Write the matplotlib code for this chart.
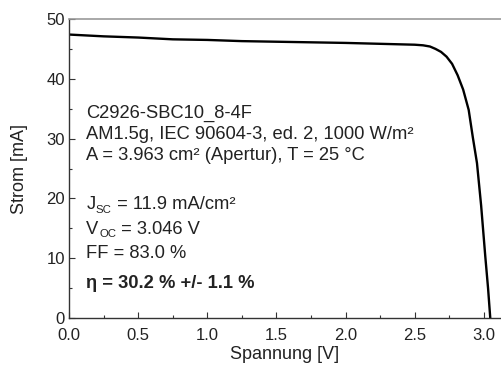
import numpy as np
import matplotlib
matplotlib.use('Agg')
import matplotlib.pyplot as plt
from matplotlib.ticker import MultipleLocator
from matplotlib.transforms import offset_copy

plt.rcParams['font.family'] = ['Liberation Sans', 'DejaVu Sans']

# IV curve
voltage = [0.0, 0.25, 0.5, 0.75, 1.0, 1.25, 1.5, 1.75, 2.0, 2.25, 2.5, 2.56,
           2.61, 2.65, 2.69, 2.73, 2.77, 2.81, 2.85, 2.89, 2.92, 2.95, 2.98,
           3.01, 3.03, 3.046]
current = [47.4, 47.1, 46.9, 46.6, 46.5, 46.3, 46.2, 46.1, 46.0, 45.85, 45.7, 45.6,
           45.4, 45.0, 44.5, 43.7, 42.5, 40.6, 38.2, 34.8, 30.2, 25.9, 18.8,
           10.3, 5.0, 0.0]

info_lines = ['C2926-SBC10_8-4F',
              'AM1.5g, IEC 90604-3, ed. 2, 1000 W/m²',
              'A = 3.963 cm² (Apertur), T = 25 °C']
info_y = [33.45, 29.9, 26.35]
# (symbol, subscript, rest)
param_lines = [('J', 'SC', ' = 11.9 mA/cm²'),
               ('V', 'OC', ' = 3.046 V'),
               ('FF = 83.0 %', '', '')]
param_y = [18.2, 14.1, 10.0]
eta_line = 'η = 30.2 % +/- 1.1 %'
eta_y = 5.0

fig = plt.figure(figsize=(5.01, 3.65), dpi=100)
W, H = 501, 365
x0, x1 = 69, 69 + 3.2 * 138.3
y0, y1 = 318, 19
ax = fig.add_axes([x0 / W, (H - y0) / H, (x1 - x0) / W, (y0 - y1) / H])

ax.plot(voltage, current, '-', color='black', linewidth=1.7)

ax.set_xlim(0, 3.2)
ax.set_ylim(0, 50)
ax.xaxis.set_major_locator(MultipleLocator(0.5))
ax.xaxis.set_minor_locator(MultipleLocator(0.25))
ax.yaxis.set_major_locator(MultipleLocator(10))
ax.yaxis.set_minor_locator(MultipleLocator(5))
ax.set_xticks([0.0, 0.5, 1.0, 1.5, 2.0, 2.5, 3.0])
ax.set_xticklabels(['0.0', '0.5', '1.0', '1.5', '2.0', '2.5', '3.0'])
ax.tick_params(which='both', direction='in', top=False, right=False,
               labelsize=12, colors='#333333', labelcolor='#222222')
ax.tick_params(which='major', length=4, width=0.8, pad=3)
ax.tick_params(axis='x', which='major', pad=7)
ax.tick_params(which='minor', length=2.5, width=0.8)

for s in ['left', 'bottom']:
    ax.spines[s].set_color('#333333')
    ax.spines[s].set_linewidth(1.0)
ax.spines['top'].set_color('#999999')
ax.spines['top'].set_linewidth(1.2)
ax.spines['right'].set_visible(False)

ax.set_xlabel('Spannung [V]', fontsize=13, color='#222222')
ax.set_ylabel('Strom [mA]', fontsize=13, color='#222222')
ax.xaxis.set_label_coords((285 - x0) / (x1 - x0), -0.122)
ax.yaxis.set_label_coords(-(69 - 20) / (x1 - x0), 0.5)
ax.yaxis.label.set_verticalalignment('center')
ax.xaxis.label.set_verticalalignment('center')

tx = 0.125
fs = 13.2
tc = '#222222'
for t, yy in zip(info_lines, info_y):
    ax.text(tx, yy, t, fontsize=fs, color=tc, va='baseline')

fig.canvas.draw()
renderer = fig.canvas.get_renderer()
for (sym, sub, rest), yy in zip(param_lines, param_y):
    t1 = ax.text(tx, yy, sym, fontsize=fs, color=tc, va='baseline')
    if not sub:
        continue
    w1 = t1.get_window_extent(renderer).width
    t2 = ax.text(tx, yy, sub, fontsize=fs * 0.62, color=tc, va='baseline',
                 transform=offset_copy(ax.transData, fig=fig, x=w1 + 0.5,
                                       y=-3.5, units='dots'))
    w2 = t2.get_window_extent(renderer).width
    ax.text(tx, yy, rest, fontsize=fs, color=tc, va='baseline',
            transform=offset_copy(ax.transData, fig=fig, x=w1 + w2 + 0.5,
                                  y=0, units='dots'))

ax.text(tx, eta_y, eta_line, fontsize=fs, color=tc, va='baseline',
        fontweight='bold')

fig.savefig('out.png', dpi=100)
